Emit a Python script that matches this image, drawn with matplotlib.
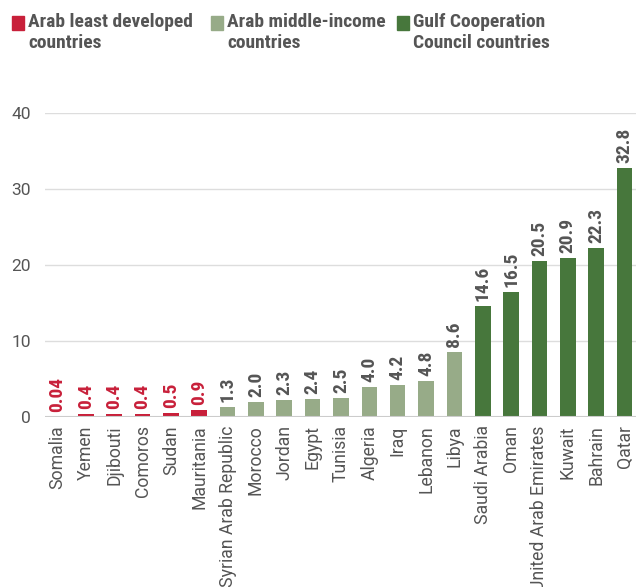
import matplotlib
matplotlib.use('Agg')
import matplotlib.pyplot as plt
import matplotlib.patches as patches

# data
countries = ['Somalia', 'Yemen', 'Djibouti', 'Comoros', 'Sudan', 'Mauritania',
             'Syrian Arab Republic', 'Morocco', 'Jordan', 'Egypt', 'Tunisia',
             'Algeria', 'Iraq', 'Lebanon', 'Libya', 'Saudi Arabia', 'Oman',
             'United Arab Emirates', 'Kuwait', 'Bahrain', 'Qatar']
values = [0.04, 0.4, 0.4, 0.4, 0.5, 0.9, 1.3, 2.0, 2.3, 2.4, 2.5,
          4.0, 4.2, 4.8, 8.6, 14.6, 16.5, 20.5, 20.9, 22.3, 32.8]
value_labels = ['0.04', '0.4', '0.4', '0.4', '0.5', '0.9', '1.3', '2.0', '2.3', '2.4', '2.5',
                '4.0', '4.2', '4.8', '8.6', '14.6', '16.5', '20.5', '20.9', '22.3', '32.8']
groups = ['ldc'] * 6 + ['mic'] * 9 + ['gcc'] * 6
group_names = ['Arab least developed\ncountries', 'Arab middle-income\ncountries',
               'Gulf Cooperation\nCouncil countries']
yticks = [0, 10, 20, 30, 40]

colors = {'ldc': '#C8203A', 'mic': '#97AB88', 'gcc': '#47773C'}
label_colors = {'ldc': '#C8203A', 'mic': '#555555', 'gcc': '#555555'}
cond = ['Roboto Condensed', 'Liberation Sans Narrow', 'Roboto', 'DejaVu Sans']
reg = ['Roboto', 'DejaVu Sans']

fig = plt.figure(figsize=(6.38, 5.87), dpi=100)
ax = fig.add_axes([0.0705, 0.2896, 0.9265, 0.5179])

x = list(range(len(countries)))
ax.bar(x, values, width=0.55, color=[colors[g] for g in groups], zorder=3)

for xi, v, lab, g in zip(x, values, value_labels, groups):
    ax.annotate(lab, (xi, v), xytext=(0, 3.5), textcoords='offset points',
                rotation=90, ha='center', va='bottom', fontsize=14,
                fontweight='bold', color=label_colors[g], family=cond)

ax.set_xlim(-0.44, len(countries) - 0.59)
ax.set_ylim(0, 40)
ax.set_yticks(yticks)
ax.set_yticklabels([str(t) for t in yticks], fontsize=12.5, color='#555555', family=reg)
ax.set_xticks(x)
ax.set_xticklabels(countries, rotation=90, fontsize=12.7, color='#555555', family=reg)
ax.tick_params(axis='both', length=0)
ax.tick_params(axis='x', pad=6)
ax.tick_params(axis='y', pad=10)

ax.grid(axis='y', color='#dddddd', linewidth=1, zorder=0)
ax.axhline(0, color='#cccccc', linewidth=1.5, zorder=4)
for s in ax.spines.values():
    s.set_visible(False)

# legend
leg_x = [12, 211, 397]
for lx, name, g in zip(leg_x, group_names, ['ldc', 'mic', 'gcc']):
    fig.patches.append(patches.Rectangle((lx / 638, 1 - 30 / 587), 12 / 638, 14 / 587,
                                         transform=fig.transFigure, color=colors[g]))
    fig.text((lx + 16) / 638, 1 - 13 / 587, name, ha='left', va='top', fontsize=14,
             fontweight='bold', color='#555555', family=cond, linespacing=1.25)

fig.savefig('out.png', dpi=100)
